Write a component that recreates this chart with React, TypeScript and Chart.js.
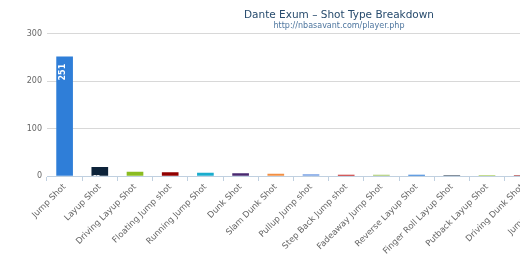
import { useEffect, useRef } from "react";
import { Chart, registerables } from "chart.js";

Chart.register(...registerables);

const chartTitle = "Dante Exum – Shot Type Breakdown";
const chartSubtitle = "http://nbasavant.com/player.php";

const categories = [
  "Jump Shot",
  "Layup Shot",
  "Driving Layup Shot",
  "Floating Jump shot",
  "Running Jump Shot",
  "Dunk Shot",
  "Slam Dunk Shot",
  "Pullup Jump shot",
  "Step Back Jump shot",
  "Fadeaway Jump Shot",
  "Reverse Layup Shot",
  "Finger Roll Layup Shot",
  "Putback Layup Shot",
  "Driving Dunk Shot",
  "Jump Bank Shot",
];

const shotCounts = [251, 18, 8, 7, 6, 5, 4, 3, 2, 2, 2, 1, 1, 1, 1];

const barColors = [
  "#2f7ed8",
  "#0d233a",
  "#8bbc21",
  "#910000",
  "#1aadce",
  "#492970",
  "#f28f43",
  "#77a1e5",
  "#c42525",
  "#a6c96a",
  "#2f7ed8",
  "#0d233a",
  "#8bbc21",
  "#910000",
  "#1aadce",
];

const yMin = 0;
const yMax = 300;
const yStep = 100;

const FONT = '"DejaVu Sans", "Lucida Grande", Verdana, sans-serif';

const barValueLabels = {
  id: "barValueLabels",
  afterDatasetsDraw(chart: any) {
    const { ctx, chartArea } = chart;
    const meta = chart.getDatasetMeta(0);
    ctx.save();
    ctx.beginPath();
    ctx.rect(chartArea.left, chartArea.top, chartArea.right - chartArea.left, chartArea.bottom - chartArea.top);
    ctx.clip();
    ctx.font = `bold 8px ${FONT}`;
    ctx.fillStyle = "#ffffff";
    ctx.textAlign = "right";
    ctx.textBaseline = "middle";
    meta.data.forEach((bar: any, i: number) => {
      ctx.save();
      ctx.translate(bar.x - 1.5, bar.y + 7);
      ctx.rotate(-Math.PI / 2);
      ctx.fillText(String(shotCounts[i]), 0, 0);
      ctx.restore();
    });
    ctx.restore();
  },
};

export default function App() {
  const canvasRef = useRef<HTMLCanvasElement | null>(null);

  useEffect(() => {
    if (!canvasRef.current) return;
    const chart = new Chart(canvasRef.current, {
      type: "bar",
      data: {
        labels: categories,
        datasets: [
          {
            data: shotCounts,
            backgroundColor: barColors,
            borderWidth: 0,
            barThickness: 16,
          },
        ],
      },
      options: {
        animation: false,
        responsive: false,
        devicePixelRatio: 1,
        layout: { padding: { top: 33.5, left: 0, right: 25, bottom: 0 } },
        plugins: {
          legend: { display: false },
          tooltip: { enabled: false },
          title: { display: false },
        },
        scales: {
          x: {
            type: "category",
            offset: true,
            grid: {
              display: true,
              offset: true,
              drawOnChartArea: false,
              drawTicks: true,
              tickLength: 5,
              color: "#C0D0E0",
            },
            border: { display: true, color: "#C0D0E0", width: 1 },
            ticks: {
              autoSkip: false,
              minRotation: 45,
              maxRotation: 45,
              padding: 1,
              color: "#666666",
              font: { family: FONT, size: 8.5 },
            },
            afterFit: (scale: any) => {
              scale.height = 96;
            },
          },
          y: {
            min: yMin,
            max: yMax,
            ticks: {
              stepSize: yStep,
              padding: 5,
              color: "#666666",
              font: { family: FONT, size: 8 },
            },
            grid: { color: "#D8D8D8", drawTicks: false },
            border: { display: false },
            afterFit: (scale: any) => {
              scale.width = 47;
            },
          },
        },
      },
      plugins: [barValueLabels],
    });
    return () => chart.destroy();
  }, []);

  return (
    <div
      style={{
        position: "absolute",
        left: 0,
        top: 0,
        width: 520,
        height: 272,
        overflow: "hidden",
        background: "#ffffff",
      }}
    >
      <div style={{ position: "relative", width: 678, height: 272 }}>
        <canvas
          ref={canvasRef}
          width={600}
          height={272}
          style={{ position: "absolute", left: 0, top: 0, display: "block" }}
        />
        <div
          style={{
            position: "absolute",
            left: 0,
            top: 8,
            width: 678,
            textAlign: "center",
            fontFamily: FONT,
            fontSize: 10.5,
            lineHeight: "12px",
            color: "#274b6d",
            whiteSpace: "nowrap",
          }}
        >
          {chartTitle}
        </div>
        <div
          style={{
            position: "absolute",
            left: 0,
            top: 21,
            width: 678,
            textAlign: "center",
            fontFamily: FONT,
            fontSize: 8,
            lineHeight: "10px",
            color: "#4d759e",
            whiteSpace: "nowrap",
          }}
        >
          {chartSubtitle}
        </div>
      </div>
    </div>
  );
}
